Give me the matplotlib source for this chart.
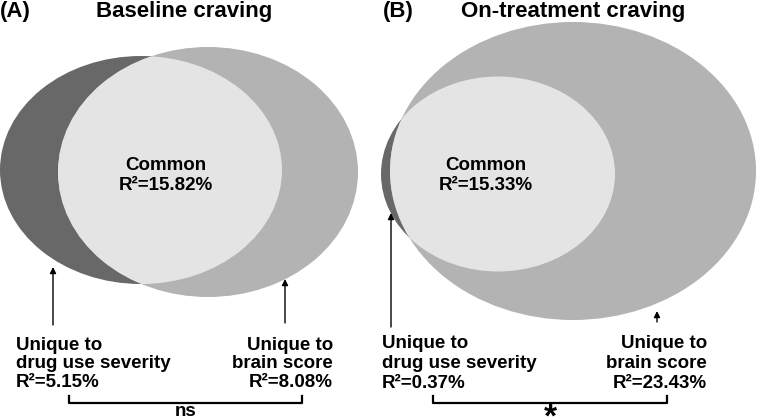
import matplotlib
matplotlib.use("Agg")
import matplotlib.pyplot as plt
from matplotlib.patches import Ellipse

plt.rcParams['font.family'] = ['Liberation Sans', 'DejaVu Sans']
plt.rcParams['font.weight'] = 'bold'

# 数据：两个面板的 R² 分解
panels = ["(A)", "(B)"]
titles = ["Baseline craving", "On-treatment craving"]
common_r2 = [15.82, 15.33]
drug_r2 = [5.15, 0.37]
brain_r2 = [8.08, 23.43]
signif = ["ns", "*"]

DARK = "#686868"
MID = "#b3b3b3"
LIGHT = "#e4e4e4"

# 版式（像素坐标）
layout = [
    dict(x0=0, title_x=184, dark=(141, 170, 282, 228), mid=(208, 172, 300, 250),
         common=(166, 170), left_x=16, right_x=333, base=(350, 368.5, 387),
         arrow_l=(53, 267, 325), arrow_r=(285, 279, 323), br=(69, 302)),
    dict(x0=383, title_x=573, dark=(498, 174, 234, 195), mid=(573, 171, 366, 298),
         common=(486, 170), left_x=382, right_x=707, base=(348, 368.5, 388),
         arrow_l=(391, 213, 327), arrow_r=(657, 311, 322), br=(433, 667)),
]

fig = plt.figure(figsize=(7.57, 4.18), dpi=100)
ax = fig.add_axes([0, 0, 1, 1])
ax.set_xlim(0, 757)
ax.set_ylim(418, 0)
ax.axis('off')

for i, lay in enumerate(layout):
    # 标题
    ax.text(lay['x0'], 17, panels[i], fontsize=16, ha='left', va='baseline')
    ax.text(lay['title_x'], 17, titles[i], fontsize=16, ha='center', va='baseline')

    # 椭圆：深色=药物使用严重程度，中灰=脑评分，浅色=重叠部分
    dx, dy, dw, dh = lay['dark']
    mx, my, mw, mh = lay['mid']
    ax.add_patch(Ellipse((dx, dy), dw, dh, color=DARK, lw=0))
    mid = Ellipse((mx, my), mw, mh, color=MID, lw=0)
    ax.add_patch(mid)
    inter = Ellipse((dx, dy), dw, dh, color=LIGHT, lw=0)
    ax.add_patch(inter)
    inter.set_clip_path(mid)

    cx, cy = lay['common']
    ax.text(cx, cy, "Common", fontsize=13.5, ha='center', va='baseline')
    ax.text(cx, cy + 20, "R²={:.2f}%".format(common_r2[i]), fontsize=13.5,
            ha='center', va='baseline')

    # 底部标签
    left_lines = ["Unique to", "drug use severity", "R²={:.2f}%".format(drug_r2[i])]
    right_lines = ["Unique to", "brain score", "R²={:.2f}%".format(brain_r2[i])]
    for k in range(3):
        ax.text(lay['left_x'], lay['base'][k], left_lines[k], fontsize=13.5,
                ha='left', va='baseline')
        ax.text(lay['right_x'], lay['base'][k], right_lines[k], fontsize=13.5,
                ha='right', va='baseline')

    # 箭头
    for key in ['arrow_l', 'arrow_r']:
        ax_, tip, tail = lay[key]
        ax.annotate('', xy=(ax_, tip), xytext=(ax_, tail),
                    arrowprops=dict(arrowstyle='-|>', color='black', lw=1,
                                    mutation_scale=9, shrinkA=0, shrinkB=0))

    # 显著性括号
    b1, b2 = lay['br']
    ax.plot([b1, b1, b2, b2], [396, 403, 403, 396], color='black', lw=1.6)

# 显著性标记
ax.text(sum(layout[0]['br']) / 2, 416, signif[0], fontsize=13.5,
        ha='center', va='baseline')
ax.text(sum(layout[1]['br']) / 2, 427, signif[1], fontsize=24,
        ha='center', va='baseline')

fig.savefig("out.png", dpi=100)
